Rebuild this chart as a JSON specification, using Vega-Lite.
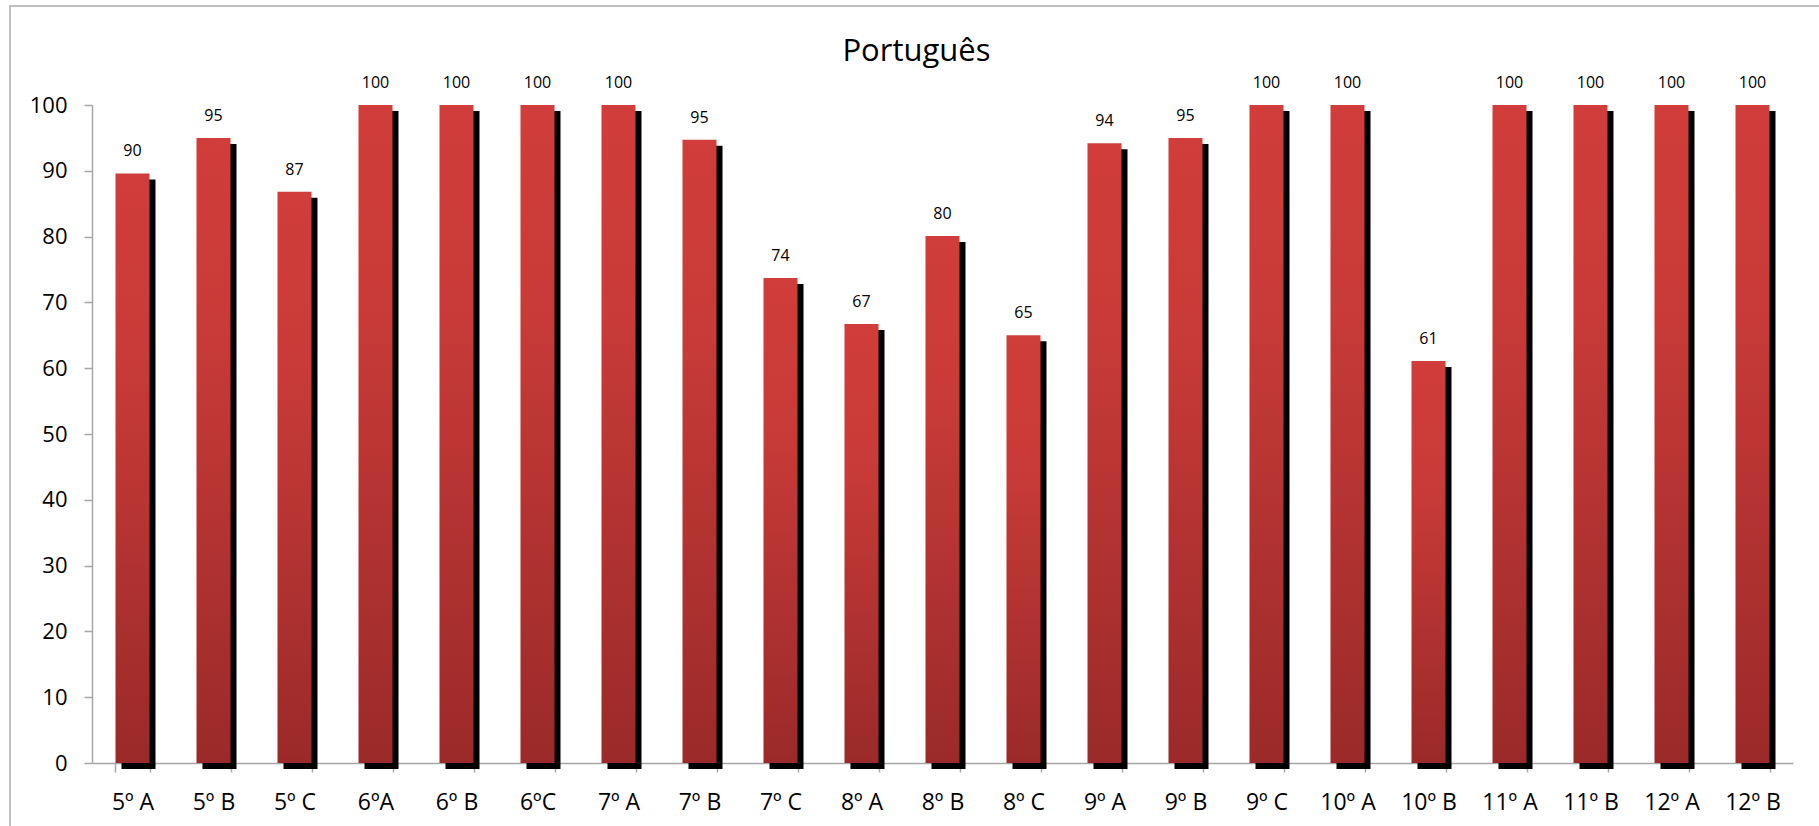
{
  "$schema": "https://vega.github.io/schema/vega-lite/v6.json",
  "autosize": {"type": "none"},
  "padding": {"left": 10, "top": 6, "right": 0, "bottom": 0},
  "width": 1815,
  "height": 825,
  "background": "white",
  "config": {
    "view": {"stroke": "#BFBFBF", "strokeWidth": 2},
    "font": "Open Sans"
  },
  "title": {
    "text": "Português",
    "font": "Open Sans",
    "fontSize": 31,
    "fontWeight": "normal",
    "color": "#000000",
    "anchor": "middle",
    "frame": "group",
    "baseline": "alphabetic",
    "offset": -86,
    "dx": -1
  },
  "data": {
    "values": [
      {"turma": "5º A", "valor": 89.6},
      {"turma": "5º B", "valor": 95.0},
      {"turma": "5º C", "valor": 86.8},
      {"turma": "6ºA", "valor": 100},
      {"turma": "6º B", "valor": 100},
      {"turma": "6ºC", "valor": 100},
      {"turma": "7º A", "valor": 100},
      {"turma": "7º B", "valor": 94.7},
      {"turma": "7º C", "valor": 73.7},
      {"turma": "8º A", "valor": 66.7},
      {"turma": "8º B", "valor": 80.1},
      {"turma": "8º C", "valor": 65.0},
      {"turma": "9º A", "valor": 94.2},
      {"turma": "9º B", "valor": 95.0},
      {"turma": "9º C", "valor": 100},
      {"turma": "10º A", "valor": 100},
      {"turma": "10º B", "valor": 61.1},
      {"turma": "11º A", "valor": 100},
      {"turma": "11º B", "valor": 100},
      {"turma": "12º A", "valor": 100},
      {"turma": "12º B", "valor": 100}
    ]
  },
  "encoding": {
    "x": {
      "field": "turma",
      "type": "nominal",
      "sort": null,
      "scale": {"range": [82, 1783], "paddingInner": 0.58, "paddingOuter": 0.29},
      "axis": {
        "title": null,
        "orient": "bottom",
        "offset": -68,
        "labelAngle": 0,
        "labelFont": "Open Sans",
        "labelFontSize": 23,
        "labelColor": "#000000",
        "labelPadding": 19,
        "labelBaseline": "top",
        "tickBand": "extent",
        "tickSize": 9,
        "tickColor": "#A6A6A6",
        "domainColor": "#A6A6A6",
        "domainWidth": 1.5,
        "tickWidth": 1.5,
        "grid": false
      }
    }
  },
  "layer": [
    {
      "mark": {"type": "bar", "color": "#000000", "xOffset": 6, "yOffset": 6, "y2Offset": 1.5},
      "encoding": {
        "y": {
          "field": "valor",
          "type": "quantitative",
          "scale": {"domain": [0, 100], "range": [757, 99], "nice": false}
        }
      }
    },
    {
      "mark": {
        "type": "bar",
        "color": {
          "gradient": "linear",
          "x1": 0, "y1": 0, "x2": 0, "y2": 1,
          "stops": [
            {"offset": 0, "color": "#D03D3A"},
            {"offset": 0.3, "color": "#C93B38"},
            {"offset": 1, "color": "#9A2A29"}
          ]
        }
      },
      "encoding": {
        "y": {
          "field": "valor",
          "type": "quantitative",
          "scale": {"domain": [0, 100], "range": [757, 99], "nice": false},
          "axis": {
            "title": null,
            "orient": "left",
            "offset": -82,
            "values": [0, 10, 20, 30, 40, 50, 60, 70, 80, 90, 100],
            "labelFont": "Open Sans",
            "labelFontSize": 22,
            "labelColor": "#000000",
            "labelPadding": 17,
            "tickSize": 8,
            "tickColor": "#A6A6A6",
            "domainColor": "#A6A6A6",
            "domainWidth": 1.5,
            "tickWidth": 1.5,
            "grid": false
          }
        }
      }
    },
    {
      "mark": {
        "type": "text",
        "font": "Open Sans",
        "fontSize": 16,
        "color": "#000000",
        "baseline": "middle",
        "dy": -22
      },
      "encoding": {
        "y": {
          "field": "valor",
          "type": "quantitative",
          "scale": {"domain": [0, 100], "range": [757, 99], "nice": false}
        },
        "text": {"field": "valor", "type": "quantitative", "format": ".0f"}
      }
    }
  ]
}
